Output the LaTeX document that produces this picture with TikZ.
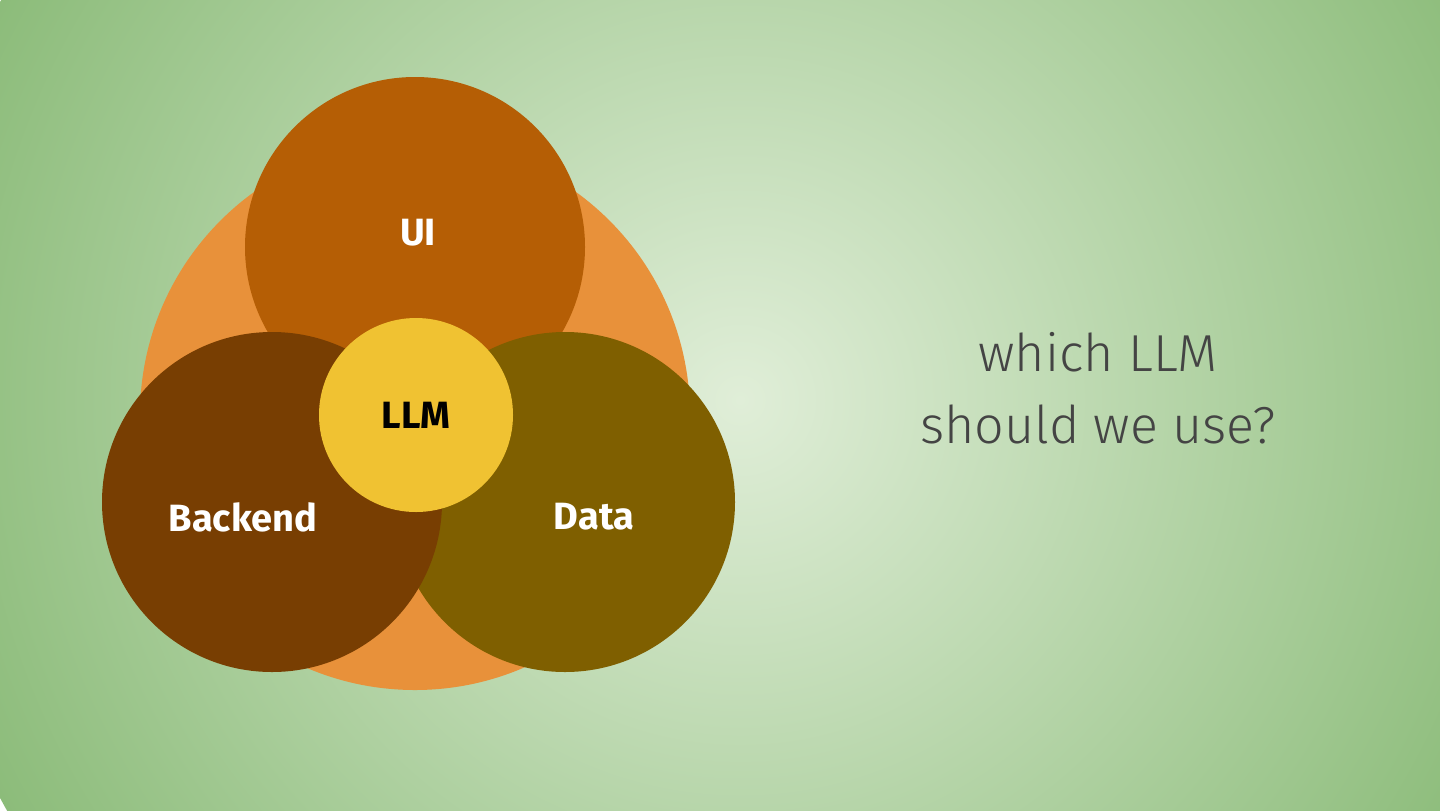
\documentclass[tikz,border=0pt]{standalone}
\usepackage{fontspec}
\setmainfont{Fira Sans}
\newfontfamily\questfont{Fira Sans Light}
\usepackage{tikz}
\usetikzlibrary{positioning}
\definecolor{bgmid}{RGB}{224,238,216}
\definecolor{bgedge}{RGB}{140,188,122}
\definecolor{outerorange}{RGB}{232,145,58}
\definecolor{uicol}{RGB}{181,94,5}
\definecolor{backcol}{RGB}{120,62,2}
\definecolor{datacol}{RGB}{127,95,0}
\definecolor{llmcol}{RGB}{240,194,50}
\definecolor{txtgray}{RGB}{68,68,68}
\tikzset{
  blob/.style={circle, inner sep=0pt, text=white, font=\bfseries\fontsize{19}{22}\selectfont},
}
\begin{document}
\begin{tikzpicture}[x=0.5pt, y=-0.5pt]
        \useasboundingbox (0,0) rectangle (1440,810);
        % Background
        \begin{scope}
          \clip (-4,-4) rectangle (1444,814);
          \shade[inner color=bgmid, outer color=bgedge] (740,400) circle (840);
        \end{scope}
        % Circles
        \node[blob, fill=outerorange, minimum size=275pt] (core) at (415,415) {};
        \node[blob, fill=uicol, minimum size=170pt] (ui) at (415,247) {};
        \node[blob, fill=datacol, minimum size=170pt] (data) at (565,502) {};
        \node[blob, fill=backcol, minimum size=170pt] (backend) at (272,502) {};
        \node[blob, fill=llmcol, text=black, minimum size=97pt] (llm) at (416,415) {LLM};
        % Labels
        \node[blob] (uilbl) at (418,233) {UI};
        \node[blob] (backlbl) at (243,517) {Backend};
        \node[blob] (datalbl) at (594,517) {Data};
        % Question
        \node[text=txtgray, font=\questfont\fontsize{26}{36}\selectfont, align=center] (question) at (1098,388)
          {which LLM\\should we use?};
      \end{tikzpicture}
\end{document}
